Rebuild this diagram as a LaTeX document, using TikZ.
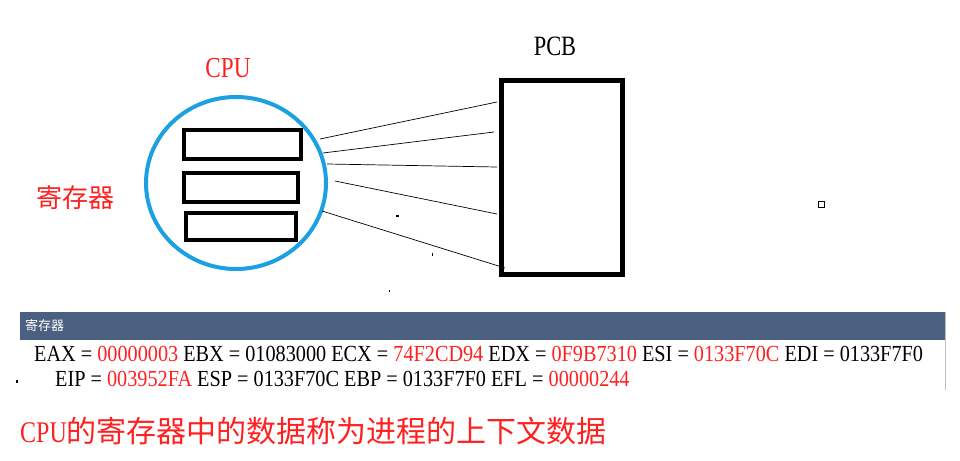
\documentclass[tikz,border=0pt]{standalone}
\usepackage{fontspec}
\setmainfont{Liberation Serif}
\newfontfamily\cjk{Noto Sans CJK SC}
\newfontfamily\regfont[FakeStretch=0.88]{Liberation Serif}
\newfontfamily\narrowfont[FakeStretch=0.8]{Liberation Serif}
\definecolor{cpublue}{HTML}{1BA1E2}
\definecolor{hdr}{HTML}{4B5F80}
\definecolor{rd}{HTML}{FF2020}
\tikzset{reg/.style={draw=black,line width=4pt},
 lnk/.style={draw=black,line width=0.7pt},
 lbl/.style={inner sep=0pt,anchor=center}}
\newcommand{\R}[1]{\textcolor{rd}{#1}}
\begin{document}
\begin{tikzpicture}[x=1pt,y=-1pt]
\useasboundingbox (0,0) rectangle (960,460);
\node[lbl,text=rd,font=\narrowfont\fontsize{29}{29}\selectfont] (cpu) at (228,68) {CPU};
\node[lbl,font=\narrowfont\fontsize{28}{28}\selectfont] (pcbl) at (555,46) {PCB};
\node[lbl,text=rd,font=\cjk\fontsize{26}{26}\selectfont] (jcq) at (75,198) {寄存器};
\draw[cpublue,line width=4pt] (236,183) ellipse (90 and 86);
\draw[reg] (184,130) rectangle (301,159) coordinate (r1);
\draw[reg] (184,173) rectangle (298,202) coordinate (r2);
\draw[reg] (186,213) rectangle (296,240) coordinate (r3);
\node[draw=black,line width=5pt,minimum width=121,minimum height=194,inner sep=0pt] (pcb) at (561.5,177) {};
\coordinate (a1) at (320,139); \coordinate (b1) at (497,102);
\coordinate (a2) at (323,153); \coordinate (b2) at (494,132);
\coordinate (a3) at (327,164); \coordinate (b3) at (497,167);
\coordinate (a4) at (335,181); \coordinate (b4) at (497,214);
\coordinate (a5) at (322,211); \coordinate (b5) at (505,268);
\draw[lnk] (a1)--(b1); \draw[lnk] (a2)--(b2); \draw[lnk] (a3)--(b3);
\draw[lnk] (a4)--(b4); \draw[lnk] (a5)--(b5);
\draw[line width=0.8pt] (818,201) rectangle (824,207);
\fill (396,215) rectangle (399,216.5);
\fill (432,253) rectangle (433,256);
\fill (389,290) rectangle (390,292);
\fill (16,380) rectangle (18,383);
% panel
\fill[hdr] (20,312) rectangle (945,340);
\draw[gray!50] (945,312) -- (945,390);
\node[anchor=west,inner sep=0pt,text=white,font=\cjk\fontsize{13}{13}\selectfont] (ph) at (25,326) {寄存器};
\node[anchor=west,inner sep=0pt,font=\regfont\fontsize{23}{23}\selectfont] (l1) at (34,354)
 {EAX = \R{00000003} EBX = 01083000 ECX = \R{74F2CD94} EDX = \R{0F9B7310} ESI = \R{0133F70C} EDI = 0133F7F0};
\node[anchor=west,inner sep=0pt,font=\regfont\fontsize{23}{23}\selectfont] (l2) at (55,379)
 {EIP = \R{003952FA} ESP = 0133F70C EBP = 0133F7F0 EFL = \R{00000244}};
\node[anchor=west,inner sep=0pt,text=rd,font=\fontsize{30}{30}\selectfont] (cap) at (20,431)
 {{\narrowfont CPU}{\cjk 的寄存器中的数据称为进程的上下文数据}};
\end{tikzpicture}
\end{document}
